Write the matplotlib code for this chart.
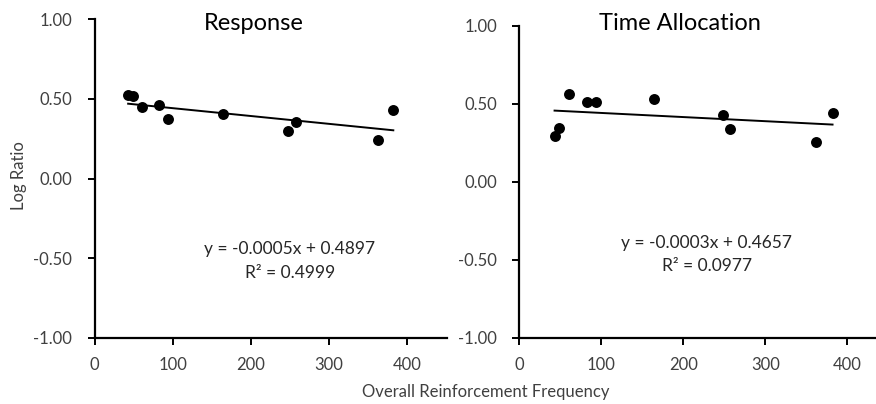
"""
Log ratio vs overall reinforcement frequency - Response and Time Allocation panels
with linear trendlines.
"""
import numpy as np
import matplotlib
matplotlib.use("Agg")
import matplotlib.pyplot as plt

plt.rcParams["font.family"] = ["Lato", "DejaVu Sans"]

# -- Data ----------------------------------------------------------------------
freq          = [43, 49, 61, 83, 94, 164, 248, 257, 362, 382]
response      = [0.523, 0.517, 0.446, 0.461, 0.371, 0.404, 0.298, 0.354, 0.241, 0.429]
time_alloc    = [0.293, 0.344, 0.560, 0.513, 0.513, 0.528, 0.428, 0.338, 0.256, 0.438]

resp_eq       = ["y = -0.0005x + 0.4897", "R² = 0.4999"]
time_eq       = ["y = -0.0003x + 0.4657", "R² = 0.0977"]

y_ticks       = [-1.0, -0.5, 0.0, 0.5, 1.0]
x_ticks       = [0, 100, 200, 300, 400]

TXT = "#404040"
W, H = 876, 404

fig = plt.figure(figsize=(W / 100, H / 100), dpi=100)
ax_l = fig.add_axes([94.5 / W, (H - 338) / H, 352 / W, 319 / H])
ax_r = fig.add_axes([519.3 / W, (H - 337.7) / H, 369 / W, 312 / H])


def panel(ax, y, eq, eq_xy):
    ax.scatter(freq, y, s=62, color="black", zorder=3, linewidths=0)
    slope, icpt = np.polyfit(freq, y, 1)   # Excel-style linear trendline
    xs = np.array([min(freq), max(freq)])
    ax.plot(xs, slope * xs + icpt, color="black", lw=1.4)
    ax.set_xlim(0, 450)
    ax.set_ylim(-1, 1)
    ax.set_xticks(x_ticks)
    ax.set_yticks(y_ticks)
    ax.set_yticklabels([f"{v:.2f}" for v in y_ticks])
    for s in ("top", "right"):
        ax.spines[s].set_visible(False)
    for s in ("left", "bottom"):
        ax.spines[s].set_linewidth(1.6)
    ax.tick_params(axis="y", length=5, width=1.4, pad=11, labelsize=12, labelcolor=TXT)
    ax.tick_params(axis="x", length=5, width=1.4, pad=9, labelsize=12, labelcolor=TXT)
    ax.text(eq_xy[0], eq_xy[1], eq[0], transform=ax.transAxes, ha="center",
            va="center", fontsize=12.5, color="#262626")
    ax.text(eq_xy[0], eq_xy[1] - 0.075, eq[1], transform=ax.transAxes, ha="center",
            va="center", fontsize=12.5, color="#262626")


panel(ax_l, response, resp_eq, (0.555, 0.28))
panel(ax_r, time_alloc, time_eq, (0.508, 0.305))

fig.text(254 / W, 1 - 24 / H, "Response", ha="center", va="center", fontsize=17)
fig.text(680 / W, 1 - 24 / H, "Time Allocation", ha="center", va="center", fontsize=17)

fig.text(19 / W, 1 - 176 / H, "Log Ratio", rotation=90, ha="center", va="center",
         fontsize=12, color=TXT)
fig.text(486 / W, 1 - 392 / H, "Overall Reinforcement Frequency", ha="center",
         va="center", fontsize=12, color=TXT)

fig.savefig("out.png", dpi=100)
